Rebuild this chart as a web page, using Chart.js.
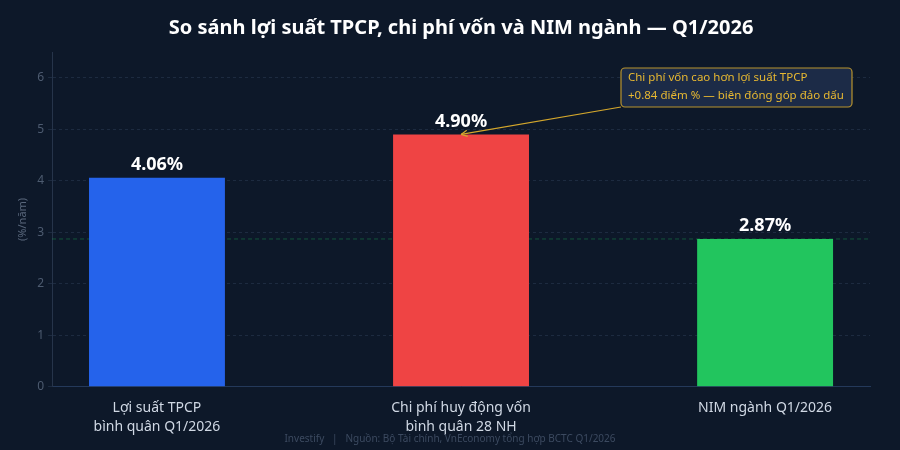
<!DOCTYPE html>
<html>
<head>
<meta charset="utf-8">
<script src="https://cdn.jsdelivr.net/npm/chart.js@4"></script>
<style>
  html, body { margin: 0; padding: 0; background: #0d1829; }
  #wrap { width: 900px; height: 450px; }
</style>
</head>
<body>
<div id="wrap"><canvas id="grafico" width="900" height="450"></canvas></div>
<script>
const categorias = [["Lợi suất TPCP", "bình quân Q1/2026"], ["Chi phí huy động vốn", "bình quân 28 NH"], "NIM ngành Q1/2026"];
const valores = [4.06, 4.90, 2.87];
const cores = ["#2563eb", "#ef4444", "#22c55e"];
const ticksY = [0, 1, 2, 3, 4, 5, 6];
const linhaNim = 2.87;
const notaTexto = ["Chi phí vốn cao hơn lợi suất TPCP", "+0.84 điểm % — biên đóng góp đảo dấu"];
const rodape = "Investify   |   Nguồn: Bộ Tài chính, VnEconomy tổng hợp BCTC Q1/2026";

const fonte = "'Noto Sans', 'Open Sans', sans-serif";

// rotulos em cima das barras + linha tracejada do NIM
const pluginExtras = {
  id: "extras",
  beforeDatasetsDraw(chart) {
    const { ctx, chartArea, scales } = chart;
    const y = scales.y.getPixelForValue(linhaNim);
    ctx.save();
    ctx.strokeStyle = "rgba(34,197,94,0.35)";
    ctx.lineWidth = 1;
    ctx.setLineDash([4, 3]);
    ctx.beginPath();
    ctx.moveTo(chartArea.left, y);
    ctx.lineTo(chartArea.right, y);
    ctx.stroke();
    ctx.restore();
  },
  afterDatasetsDraw(chart) {
    const { ctx, scales } = chart;
    const meta = chart.getDatasetMeta(0);
    ctx.save();
    ctx.fillStyle = "#ffffff";
    ctx.font = "bold 18px " + fonte;
    ctx.textAlign = "center";
    ctx.textBaseline = "bottom";
    meta.data.forEach((bar, i) => {
      ctx.fillText(valores[i].toFixed(2) + "%", bar.x, bar.y - 4);
    });

    // caixa de anotacao
    const bx = 621, by = 68, bw = 231, bh = 39;
    const alvoX = meta.data[1].x;
    const alvoY = scales.y.getPixelForValue(valores[1]);
    ctx.strokeStyle = "#d4a72c";
    ctx.lineWidth = 1.2;
    ctx.beginPath();
    ctx.moveTo(bx, by + bh);
    ctx.lineTo(alvoX, alvoY);
    ctx.stroke();
    const ang = Math.atan2(alvoY - (by + bh), alvoX - bx);
    ctx.beginPath();
    ctx.moveTo(alvoX, alvoY);
    ctx.lineTo(alvoX - 7 * Math.cos(ang - 0.45), alvoY - 7 * Math.sin(ang - 0.45));
    ctx.moveTo(alvoX, alvoY);
    ctx.lineTo(alvoX - 7 * Math.cos(ang + 0.45), alvoY - 7 * Math.sin(ang + 0.45));
    ctx.stroke();

    ctx.beginPath();
    ctx.roundRect(bx, by, bw, bh, 4);
    ctx.fillStyle = "#1c2b47";
    ctx.fill();
    ctx.strokeStyle = "#b8932e";
    ctx.stroke();
    ctx.fillStyle = "#e8b931";
    ctx.font = "11.5px " + fonte;
    ctx.textAlign = "left";
    ctx.textBaseline = "middle";
    ctx.fillText(notaTexto[0], bx + 7, by + 10);
    ctx.fillText(notaTexto[1], bx + 7, by + 28);
    ctx.restore();
  },
  afterDraw(chart) {
    const { ctx } = chart;
    ctx.save();
    ctx.fillStyle = "#3c4a60";
    ctx.font = "10px " + fonte;
    ctx.textAlign = "center";
    ctx.textBaseline = "middle";
    ctx.fillText(rodape, 450, 439);
    ctx.restore();
  }
};

const ctx = document.getElementById("grafico").getContext("2d");
new Chart(ctx, {
  type: "bar",
  data: {
    datasets: [{
      data: valores.map((v, i) => ({ x: i, y: v })),
      backgroundColor: cores,
      borderWidth: 0,
      barPercentage: 0.447,
      categoryPercentage: 1
    }]
  },
  options: {
    responsive: false,
    animation: false,
    layout: { padding: { left: 12, right: 30, top: 0, bottom: 10 } },
    plugins: {
      legend: { display: false },
      tooltip: { enabled: false },
      title: {
        display: true,
        fullSize: false,
        text: "So sánh lợi suất TPCP, chi phí vốn và NIM ngành — Q1/2026",
        color: "#ffffff",
        font: { family: fonte, size: 20, weight: "bold" },
        padding: { top: 16, bottom: 12 }
      }
    },
    scales: {
      x: {
        type: "linear",
        min: -0.345,
        max: 2.345,
        offset: false,
        afterBuildTicks: axis => { axis.ticks = categorias.map((c, i) => ({ value: i })); },
        grid: { display: false },
        border: { color: "#24395a", width: 1 },
        ticks: {
          autoSkip: false,
          maxRotation: 0,
          color: "#d0d8e4",
          font: { family: fonte, size: 14, lineHeight: 1.4 },
          padding: 3,
          callback: v => categorias[v]
        }
      },
      y: {
        min: 0,
        max: 6.5,
        afterBuildTicks: axis => { axis.ticks = ticksY.map(v => ({ value: v })); },
        ticks: { color: "#4d5b70", font: { family: fonte, size: 12 }, padding: 4 },
        grid: { color: "rgba(60,80,110,0.35)", drawTicks: true, tickLength: 4 },
        border: { color: "#26344a", dash: [3, 3] },
        title: {
          display: true,
          text: "(%/năm)",
          color: "#59677c",
          font: { family: fonte, size: 11 }
        }
      }
    }
  },
  plugins: [pluginExtras]
});
</script>
</body>
</html>
